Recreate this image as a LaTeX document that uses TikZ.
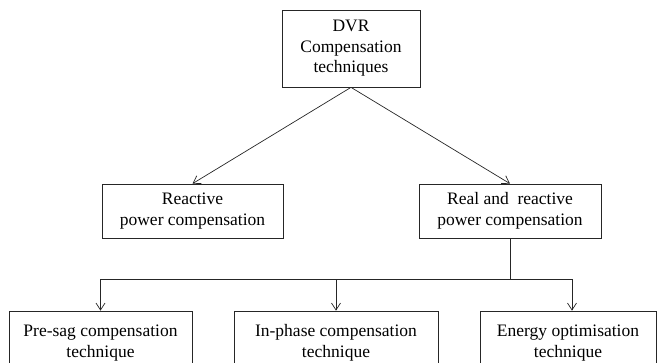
\documentclass[tikz,border=0pt]{standalone}
\usepackage{fontspec}
\setmainfont{Liberation Serif}
\newfontfamily\diagfont{Liberation Serif}
\usetikzlibrary{arrows.meta}
\begin{document}
\begin{tikzpicture}[x=1pt,y=-1pt,
  box/.style={draw=black!85, line width=0.7pt, align=center, inner sep=0pt,
    font=\diagfont\fontsize{17.5}{20.5}\selectfont},
  conn/.style={draw=black!85, line width=0.7pt},
  arr/.style={conn, -{Straight Barb[length=7pt,width=9pt,line width=0.7pt]}}]
\useasboundingbox (0,0) rectangle (658,362);
\clip (0,0) rectangle (658,362);
\node[box, minimum width=138pt, minimum height=77pt] (top) at (351,48.5)
  {DVR\\Compensation\\techniques};
\node[box, minimum width=181pt, minimum height=54pt] (react) at (192.5,211)
  {Reactive\\power compensation};
\node[box, minimum width=182pt, minimum height=54pt] (real) at (510,211)
  {Real and\ \ reactive\\power compensation};
\node[box, minimum width=183pt, minimum height=64pt] (pre) at (100.5,343)
  {Pre-sag compensation\\technique};
\node[box, minimum width=204pt, minimum height=64pt] (inph) at (336,343)
  {In-phase compensation\\technique};
\node[box, minimum width=176pt, minimum height=64pt] (energy) at (568,343)
  {Energy optimisation\\technique};
\draw[arr] (top.south) -- (react.north);
\draw[arr] (top.south) -- (real.north);
\coordinate (j) at (510,279);
\draw[conn] (real.south) -- (j);
\draw[conn] (pre.north |- j) -- ([xshift=4pt]energy.north |- j);
\draw[arr] (pre.north |- j) -- (pre.north);
\draw[arr] (inph.north |- j) -- (inph.north);
\draw[arr] ([xshift=4pt]energy.north |- j) -- ([xshift=4pt]energy.north);
\end{tikzpicture}
\end{document}
